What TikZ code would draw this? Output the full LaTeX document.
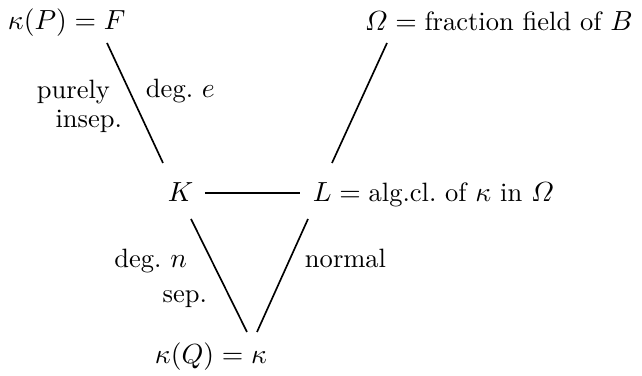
\documentclass[tikz,border=0pt]{standalone}
\usepackage{amsmath,amssymb}
\usepackage{tikz}
\usetikzlibrary{calc}

\begin{document}
\begin{tikzpicture}[
    x=0.362pt, y=-0.362pt,
    font=\fontsize{9.6pt}{11.5pt}\selectfont,
    fld/.style={inner sep=0pt, outer sep=0pt, anchor=base west},
    lbl/.style={inner sep=0pt, outer sep=0pt},
    link/.style={line width=0.6pt},
  ]
    \useasboundingbox (0,0) rectangle (642,376);

    % --- fields ---
    \node[fld] (kP) at (8,30) {$\kappa(P) = F$};
    \node[fld] (omega) at (365,31) {$\varOmega = \text{fraction field of } B$};
    \node[fld] (K) at (168,202) {$K$};
    \node[fld] (L) at (313,202) {$L = \text{alg.cl.\ of } \kappa \text{ in } \varOmega$};
    \node[fld] (kQ) at (155,364) {$\kappa(Q) = \kappa$};

    % --- extensions ---
    \draw[link] ($(kP.base west)+(99,13)$) -- ($(K.base west)+(-5,-39)$);
    \draw[link] ($(omega.base west)+(22,12)$) -- ($(L.base west)+(19,-39)$);
    \draw[link] ($(K.base west)+(37,-9)$) -- ($(L.base west)+(-13,-9)$);
    \draw[link] ($(K.base west)+(23,17)$) -- ($(kQ.base west)+(92,-32)$);
    \draw[link] ($(L.base west)+(-5,17)$) -- ($(kQ.base west)+(102,-32)$);

    % labels
    \node[lbl, anchor=base east] (purely) at (110,99) {purely};
    \node[lbl, anchor=base east] (insep) at (122,128) {insep.};
    \node[lbl, anchor=base west] (degE) at (146,98) {deg.\ $e$};
    \node[lbl, anchor=base east] (degN) at (187,268) {deg.\ $n$};
    \node[lbl, anchor=base east] (sep) at (207,303) {sep.};
    \node[lbl, anchor=base west] (normal) at (305,268) {normal};
  \end{tikzpicture}
\end{document}
